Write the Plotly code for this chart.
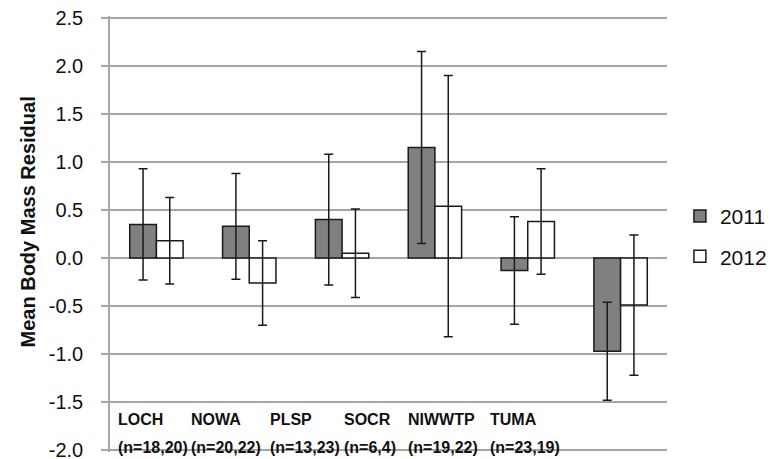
import plotly.graph_objects as go

sites = ["LOCH", "NOWA", "PLSP", "SOCR", "NIWWTP", "TUMA"]
sample_sizes = ["(n=18,20)", "(n=20,22)", "(n=13,23)", "(n=6,4)", "(n=19,22)", "(n=23,19)"]
mean_2011 = [0.35, 0.33, 0.40, 1.15, -0.13, -0.97]
err_2011 = [0.58, 0.55, 0.68, 1.00, 0.56, 0.51]
mean_2012 = [0.18, -0.26, 0.05, 0.54, 0.38, -0.49]
err_2012 = [0.45, 0.44, 0.46, 1.36, 0.55, 0.73]
y_ticks = [2.5, 2.0, 1.5, 1.0, 0.5, 0.0, -0.5, -1.0, -1.5, -2.0]

# label left edges (pixels in the 770 px page) for the category text
label_left_px = [116, 189, 268, 342, 406, 488]

W, H = 770, 459
PL, PR = 110, 667
PT, PB = 16, 452  # y range padded slightly so the -2.0 and 2.5 lines are drawn

fig = go.Figure()
fig.add_trace(go.Bar(
    x=sites, y=mean_2011, name="2011", legendgroup="a",
    marker=dict(color="#808080", line=dict(color="#1a1a1a", width=1.5)),
    error_y=dict(type="data", array=err_2011, color="#1a1a1a", thickness=1.5, width=4.5),
))
fig.add_trace(go.Bar(
    x=sites, y=mean_2012, name="2012", legendgroup="b",
    marker=dict(color="#ffffff", line=dict(color="#1a1a1a", width=1.5)),
    error_y=dict(type="data", array=err_2012, color="#1a1a1a", thickness=1.5, width=4.5),
))

annotations = []
for lx, s, n in zip(label_left_px, sites, sample_sizes):
    xp = (lx - PL) / (PR - PL)
    annotations.append(dict(x=xp, xref="paper", y=-1.68, yref="y", text="<b>%s</b>" % s,
                            showarrow=False, xanchor="left", yanchor="middle",
                            font=dict(family="Liberation Sans, Arial", size=16, color="#111")))
    annotations.append(dict(x=xp, xref="paper", y=-1.975, yref="y", text="<b>%s</b>" % n,
                            showarrow=False, xanchor="left", yanchor="middle",
                            font=dict(family="Liberation Sans, Arial", size=16, color="#111")))

# y-axis title as a rotated annotation
annotations.append(dict(x=(28 - PL) / (PR - PL), xref="paper", y=0.37, yref="y",
                        text="<b>Mean Body Mass Residual</b>", textangle=-90,
                        showarrow=False, xanchor="center", yanchor="middle",
                        font=dict(family="Liberation Sans, Arial", size=20, color="#111")))

fig.update_layout(
    width=W, height=H,
    margin=dict(l=PL, r=W - PR, t=PT, b=H - PB, pad=0, autoexpand=False),
    paper_bgcolor="white", plot_bgcolor="white",
    barmode="group", bargap=0.425, bargroupgap=0,
    font=dict(family="Liberation Sans, Arial", color="#111"),
    xaxis=dict(showticklabels=False, showgrid=False, zeroline=False, showline=False,
               ticks=""),
    yaxis=dict(range=[-2.02, 2.52], tickvals=y_ticks, ticktext=["%.1f" % v for v in y_ticks],
               showgrid=True, gridcolor="#a6a6a6", gridwidth=1.5,
               zeroline=True, zerolinecolor="#a6a6a6", zerolinewidth=1.5,
               showline=True, linecolor="#a6a6a6", linewidth=1.5,
               ticks="outside", ticklen=7, tickcolor="#a6a6a6", tickwidth=1.5,
               ticklabelstandoff=14, ticklabeloverflow="allow",
               tickfont=dict(size=20, color="#111")),
    showlegend=True,
    legend=dict(xref="container", yref="container", x=0.883, xanchor="left",
                y=0.485, yanchor="middle",
                font=dict(size=21, color="#111"), tracegroupgap=10,
                itemwidth=30, bgcolor="rgba(0,0,0,0)"),
    annotations=annotations,
)

fig.write_html("out.html")
